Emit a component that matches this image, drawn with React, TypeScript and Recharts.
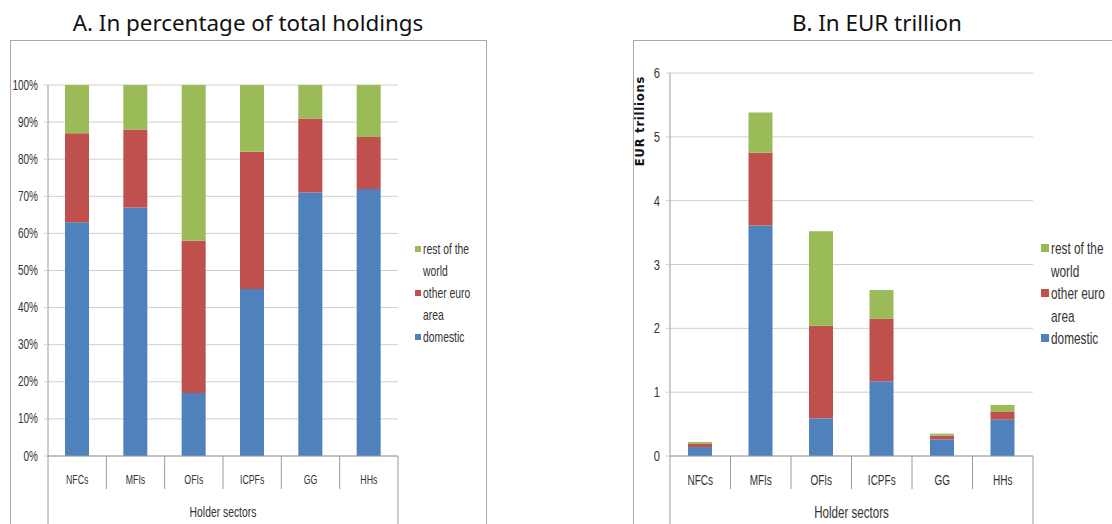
import { Bar, BarChart, CartesianGrid, XAxis, YAxis } from "recharts";

const sectors = ["NFCs", "MFIs", "OFIs", "ICPFs", "GG", "HHs"];

// panel A, share of total holdings (%)
const pctDomestic = [63, 67, 17, 45, 71, 72];
const pctOtherEuro = [24, 21, 41, 37, 20, 14];
const pctRestWorld = [13, 12, 42, 18, 9, 14];
const pctTicks = [0, 10, 20, 30, 40, 50, 60, 70, 80, 90, 100];

// panel B, EUR trillions
const eurDomestic = [0.14, 3.61, 0.59, 1.17, 0.26, 0.57];
const eurOtherEuro = [0.05, 1.14, 1.45, 0.98, 0.06, 0.12];
const eurRestWorld = [0.03, 0.63, 1.48, 0.45, 0.03, 0.11];
const eurTicks = [0, 1, 2, 3, 4, 5, 6];

const seriesNames = ["rest of the world", "other euro area", "domestic"];
const COLORS = { domestic: "#4F81BD", other: "#C0504D", rest: "#9BBB59" };
const legendColors = [COLORS.rest, COLORS.other, COLORS.domestic];

// narrow Calibri-ish look: Arial metrics squeezed horizontally
const FONT = "'Liberation Sans', Arial, sans-serif";
const SQUEEZE = 0.72;
const TEXT = "#333";
const AXIS = "#9a9a9a";
const GRID = "#cfcfcf";

const pctData = sectors.map((s, i) => ({
  sector: s,
  domestic: pctDomestic[i],
  other: pctOtherEuro[i],
  rest: pctRestWorld[i],
}));

const eurData = sectors.map((s, i) => ({
  sector: s,
  domestic: eurDomestic[i],
  other: eurOtherEuro[i],
  rest: eurRestWorld[i],
}));

function NarrowText({ x, y, anchor, size, children }: any) {
  return (
    <text
      transform={`translate(${x},${y}) scale(${SQUEEZE},1)`}
      textAnchor={anchor}
      dominantBaseline="central"
      fontFamily={FONT}
      fontSize={size}
      fill={TEXT}
    >
      {children}
    </text>
  );
}

function SectorTick(props: any) {
  const { x, y, payload, index, band, fontSize, labelDy } = props;
  const half = band / 2;
  const last = index === sectors.length - 1;
  return (
    <g>
      <line x1={x - half} x2={x - half} y1={y} y2={y + (index === 0 ? 70 : 33)} stroke={AXIS} />
      {last && <line x1={x + half} x2={x + half} y1={y} y2={y + 70} stroke={AXIS} />}
      <NarrowText x={x} y={y + labelDy} anchor="middle" size={fontSize}>
        {payload.value}
      </NarrowText>
    </g>
  );
}

function ValueTick(props: any) {
  const { x, y, payload, fontSize, suffix } = props;
  return (
    <NarrowText x={x} y={y} anchor="end" size={fontSize}>
      {`${payload.value}${suffix}`}
    </NarrowText>
  );
}

function AxisTitle(props: any) {
  const { viewBox, fontSize, dy } = props;
  const { x, y, width, height } = viewBox;
  return (
    <NarrowText x={x + width / 2} y={y + height - dy} anchor="middle" size={fontSize}>
      Holder sectors
    </NarrowText>
  );
}

function Legend({ left, top, fontSize, wrap, rowHeight, marker }: any) {
  return (
    <div
      style={{
        position: "absolute",
        left,
        top,
        fontFamily: FONT,
        fontSize,
        lineHeight: `${rowHeight}px`,
        color: TEXT,
      }}
    >
      {seriesNames.map((name, i) => (
        <div key={name} style={{ display: "flex", alignItems: "flex-start" }}>
          <span
            style={{
              width: marker,
              height: marker,
              background: legendColors[i],
              marginTop: (rowHeight - marker) / 2,
              marginRight: 2,
              flex: "none",
            }}
          />
          <div
            style={{
              width: wrap,
              flex: "none",
              transform: `scaleX(${SQUEEZE})`,
              transformOrigin: "left top",
            }}
          >
            {name}
          </div>
        </div>
      ))}
    </div>
  );
}

const titleStyle: React.CSSProperties = {
  position: "absolute",
  width: 400,
  top: 7,
  textAlign: "center",
  fontFamily: "'Noto Sans', sans-serif",
  fontSize: 22.4,
  color: "#111",
};

export default function App() {
  return (
    <div
      style={{
        position: "relative",
        width: 1112,
        height: 524,
        overflow: "hidden",
        background: "#fff",
      }}
    >
      <style>{"body{margin:0}"}</style>

      <div
        style={{
          position: "absolute",
          left: 10,
          top: 40,
          width: 475,
          height: 520,
          border: "1px solid #a9a9a9",
        }}
      />
      <div
        style={{
          position: "absolute",
          left: 633,
          top: 40,
          width: 520,
          height: 520,
          border: "1px solid #a9a9a9",
        }}
      />

      <div style={{ ...titleStyle, left: 48 }}>A. In percentage of total holdings</div>
      <div style={{ ...titleStyle, left: 677 }}>B. In EUR trillion</div>

      <div style={{ position: "absolute", left: 0, top: 0 }}>
        <BarChart
          width={490}
          height={524}
          data={pctData}
          margin={{ top: 85, right: 92, bottom: 6, left: 8 }}
        >
          <CartesianGrid vertical={false} stroke={GRID} />
          <XAxis
            dataKey="sector"
            height={62}
            interval={0}
            tickSize={0}
            tickMargin={0}
            tickLine={false}
            axisLine={{ stroke: AXIS }}
            tick={(p: any) => <SectorTick {...p} band={350 / 6} fontSize={12.2} labelDy={23} />}
            label={(p: any) => <AxisTitle {...p} fontSize={14.4} dy={6} />}
          />
          <YAxis
            width={40}
            domain={[0, 100]}
            ticks={pctTicks}
            interval={0}
            tickSize={4}
            tickMargin={6}
            tickLine={{ stroke: GRID }}
            axisLine={{ stroke: AXIS }}
            tick={(p: any) => <ValueTick {...p} fontSize={13.9} suffix="%" />}
          />
          <Bar dataKey="domestic" stackId="a" fill={COLORS.domestic} barSize={24} isAnimationActive={false} />
          <Bar dataKey="other" stackId="a" fill={COLORS.other} barSize={24} isAnimationActive={false} />
          <Bar dataKey="rest" stackId="a" fill={COLORS.rest} barSize={24} isAnimationActive={false} />
        </BarChart>
      </div>

      <div style={{ position: "absolute", left: 600, top: 0 }}>
        <BarChart
          width={512}
          height={524}
          data={eurData}
          margin={{ top: 73, right: 79, bottom: 6, left: 40 }}
        >
          <CartesianGrid vertical={false} stroke={GRID} />
          <XAxis
            dataKey="sector"
            height={62}
            interval={0}
            tickSize={0}
            tickMargin={0}
            tickLine={false}
            axisLine={{ stroke: AXIS }}
            tick={(p: any) => <SectorTick {...p} band={363 / 6} fontSize={13.9} labelDy={24} />}
            label={(p: any) => <AxisTitle {...p} fontSize={16.1} dy={6} />}
          />
          <YAxis
            width={30}
            domain={[0, 6]}
            ticks={eurTicks}
            interval={0}
            tickSize={4}
            tickMargin={6}
            tickLine={{ stroke: GRID }}
            axisLine={{ stroke: AXIS }}
            tick={(p: any) => <ValueTick {...p} fontSize={15.5} suffix="" />}
          />
          <Bar dataKey="domestic" stackId="b" fill={COLORS.domestic} barSize={24} isAnimationActive={false} />
          <Bar dataKey="other" stackId="b" fill={COLORS.other} barSize={24} isAnimationActive={false} />
          <Bar dataKey="rest" stackId="b" fill={COLORS.rest} barSize={24} isAnimationActive={false} />
        </BarChart>
      </div>

      <div
        style={{
          position: "absolute",
          left: 640,
          top: 121,
          transform: "translate(-50%, -50%) rotate(-90deg)",
          fontFamily: "'DejaVu Sans', sans-serif",
          fontWeight: "bold",
          fontSize: 11.5,
          letterSpacing: 0.8,
          whiteSpace: "nowrap",
          color: "#111",
        }}
      >
        EUR trillions
      </div>

      <Legend left={415} top={238} fontSize={14.4} wrap={70} rowHeight={22} marker={6} />
      <Legend left={1041} top={237} fontSize={16.4} wrap={80} rowHeight={22.5} marker={8} />
    </div>
  );
}
